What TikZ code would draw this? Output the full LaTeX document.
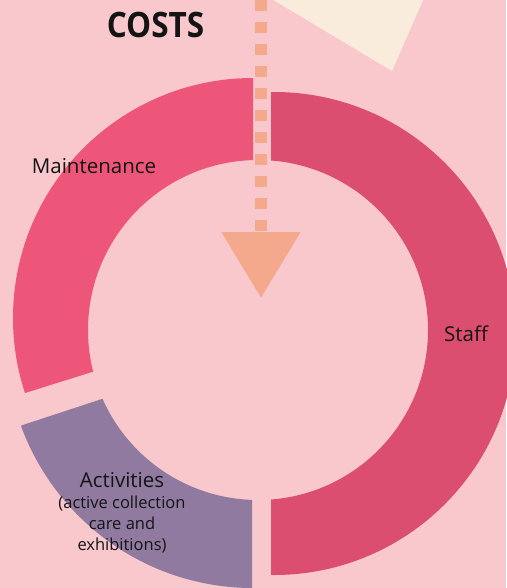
\documentclass[tikz,border=0pt]{standalone}
\usepackage{fontspec}
\setmainfont{Open Sans}
\usetikzlibrary{arrows.meta}
\definecolor{bgpink}{HTML}{F8C8CC}
\definecolor{maintcol}{HTML}{ED5678}
\definecolor{staffcol}{HTML}{DC4E70}
\definecolor{actcol}{HTML}{917AA0}
\definecolor{salmon}{HTML}{F5A98C}
\definecolor{cream}{HTML}{FAECDC}
\definecolor{ink}{HTML}{141414}
\tikzset{
  lbl/.style={text=ink, inner sep=0pt, anchor=base},
  flow/.style={draw=salmon, line width=12pt, dash pattern=on 11pt off 11pt,
    -{Triangle[width=76pt,length=66pt]}, salmon},
}
\begin{document}
\begin{tikzpicture}[x=1pt,y=-1pt]
\fill[bgpink] (0,0) rectangle (506,588);
\useasboundingbox (0,0) rectangle (506,588);
% cream shape
\fill[cream] (270,-2) -- (392,71) -- (424,-2) -- cycle;
% maintenance segment
\begin{scope}
  \clip (253,-10) -- (253,321.5) -- (-10,404) -- (-10,-10) -- cycle;
  \fill[maintcol, even odd rule] (253,318) circle[radius=240pt] (258,330) circle[radius=170pt];
\end{scope}
% staff segment
\begin{scope}
  \clip (271,-10) rectangle (520,600);
  \fill[staffcol, even odd rule] (274,333.5) circle[radius=241.5pt] (258,330) circle[radius=170pt];
\end{scope}
% activities segment
\begin{scope}
  \clip (252,349.6) -- (252,600) -- (-10,600) -- (-10,435.8) -- cycle;
  \fill[actcol, even odd rule] (253,341) circle[radius=247pt] (258,330) circle[radius=170pt];
\end{scope}
% labels
\node[lbl, font=\bfseries\fontsize{35}{40}\selectfont] (costs) at (155.5,38) {\scalebox{0.9}[1]{COSTS}};
\node[lbl, font=\fontsize{20.5}{24}\selectfont] (maint) at (94,173.5) {Maintenance};
\node[lbl, font=\fontsize{20.5}{24}\selectfont] (staff) at (466,341) {Staff};
\node[lbl, align=center, font=\fontsize{16.5}{21}\selectfont] (act) at (122,550)
  {{\fontsize{20.5}{21}\selectfont Activities}\\(active collection\\care and\\exhibitions)};
% arrow
\coordinate (arrowtop) at (261,0);
\coordinate (arrowtip) at (261,298);
\draw[flow] (arrowtop) -- (arrowtip);
\end{tikzpicture}
\end{document}
